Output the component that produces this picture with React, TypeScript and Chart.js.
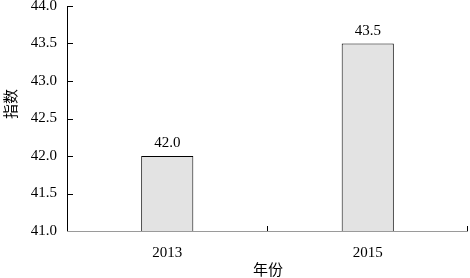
import React, { useEffect, useRef } from "react";
import { Chart, registerables } from "chart.js";

Chart.register(...registerables);

const categories = ["2013", "2015"];
const values = [42.0, 43.5];
const valueLabels = ["42.0", "43.5"];
const yTitle = "指数";
const xTitle = "年份";

const serif = "'Liberation Serif', 'Times New Roman', serif";
const cjk = "'Noto Sans CJK SC', sans-serif";

const decorPlugin = {
  id: "decor",
  afterDraw(chart: any) {
    const ctx = chart.ctx;
    const { left, right, top, bottom } = chart.chartArea;
    const xs = chart.scales.x;
    const ys = chart.scales.y;
    ctx.save();
    // y axis line
    ctx.strokeStyle = "#000";
    ctx.lineWidth = 1;
    ctx.beginPath();
    ctx.moveTo(Math.round(left) + 0.5, top);
    ctx.lineTo(Math.round(left) + 0.5, bottom);
    ctx.stroke();
    // y ticks inward
    ys.ticks.forEach((t: any) => {
      const y = Math.round(ys.getPixelForValue(t.value)) + 0.5;
      ctx.beginPath();
      ctx.moveTo(left, y);
      ctx.lineTo(left + 6, y);
      ctx.stroke();
    });
    // x axis line
    ctx.strokeStyle = "#9a9a9a";
    ctx.beginPath();
    ctx.moveTo(left, Math.round(bottom) + 0.5);
    ctx.lineTo(right, Math.round(bottom) + 0.5);
    ctx.stroke();
    // x ticks between categories, inward
    ctx.strokeStyle = "#000";
    const n = categories.length;
    const bounds: number[] = [];
    for (let i = 1; i < n; i++) {
      bounds.push((xs.getPixelForValue(i - 1) + xs.getPixelForValue(i)) / 2);
    }
    bounds.push(right);
    bounds.forEach((bx) => {
      const x = Math.round(bx) - 0.5;
      ctx.beginPath();
      ctx.moveTo(x, bottom);
      ctx.lineTo(x, bottom - 5);
      ctx.stroke();
    });
    // value labels
    const meta = chart.getDatasetMeta(0);
    ctx.fillStyle = "#000";
    ctx.font = "15px " + serif;
    ctx.textAlign = "center";
    ctx.textBaseline = "bottom";
    meta.data.forEach((bar: any, i: number) => {
      ctx.fillText(valueLabels[i], bar.x, bar.y - 5);
    });
    // x title
    ctx.font = "15px " + cjk;
    ctx.textBaseline = "middle";
    ctx.fillText(xTitle, (left + right) / 2 + 0.5, 269);
    // y title
    ctx.translate(10, 104);
    ctx.rotate(-Math.PI / 2);
    ctx.font = "15px " + cjk;
    ctx.fillText(yTitle, 0, 0);
    ctx.restore();
  },
};

export default function App() {
  const ref = useRef<HTMLCanvasElement>(null);
  useEffect(() => {
    document.body.style.margin = "0";
    const chart = new Chart(ref.current!, {
      type: "bar",
      data: {
        labels: categories,
        datasets: [
          {
            data: values,
            backgroundColor: "#e3e3e3",
            borderColor: "#000",
            borderWidth: 1,
            categoryPercentage: 1,
            barPercentage: 0.26,
          },
        ],
      },
      options: {
        responsive: false,
        animation: false,
        layout: { padding: { top: 6, right: 2, left: 0, bottom: 0 } },
        plugins: { legend: { display: false }, tooltip: { enabled: false } },
        scales: {
          x: {
            grid: { display: false, drawTicks: false },
            border: { display: false },
            ticks: { color: "#000", font: { family: serif, size: 15 }, padding: 13 },
            afterFit(s: any) {
              s.height = 47;
              s.paddingLeft = 0;
              s.paddingRight = 0;
            },
          },
          y: {
            min: 41,
            max: 44,
            grid: { display: false, drawTicks: false },
            border: { display: false },
            ticks: {
              stepSize: 0.5,
              color: "#000",
              font: { family: serif, size: 15 },
              padding: 10,
              callback: (v: any) => Number(v).toFixed(1),
            },
            afterFit(s: any) {
              s.width = 67;
              s.paddingTop = 0;
              s.paddingBottom = 0;
            },
          },
        },
      },
      plugins: [decorPlugin],
    });
    return () => chart.destroy();
  }, []);
  return <canvas ref={ref} width={470} height={278} style={{ display: "block" }} />;
}
